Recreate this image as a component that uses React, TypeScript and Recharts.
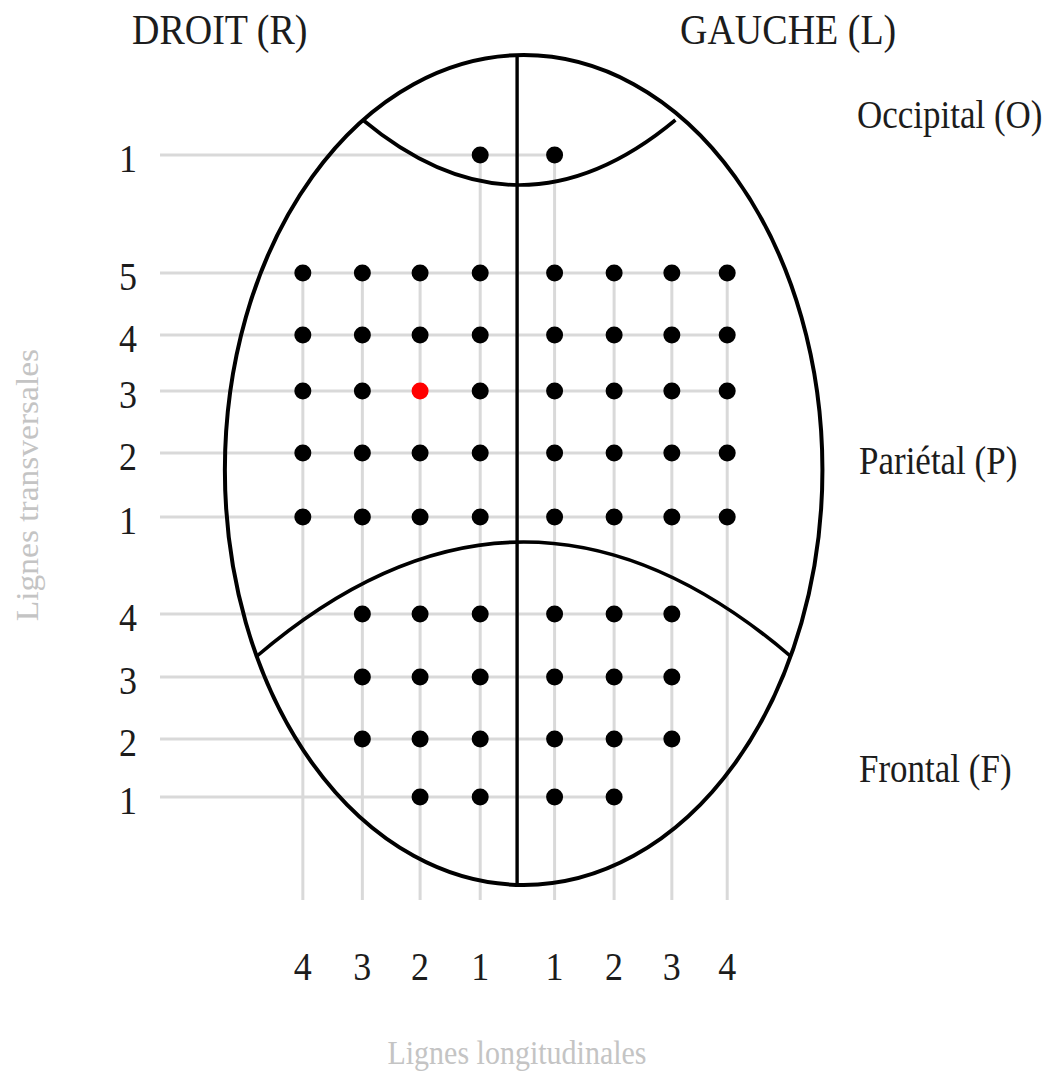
import React from "react";
import {
  ScatterChart,
  Scatter,
  XAxis,
  YAxis,
  ReferenceLine,
  Customized,
} from "recharts";

// ---- data ----
const longitudinalPositions = [-3.6, -2.6, -1.63, -0.62, 0.63, 1.63, 2.6, 3.53];
const longitudinalLabels = ["4", "3", "2", "1", "1", "2", "3", "4"];

const transversalPositions = [74.5, 62.7, 56.5, 50.9, 44.7, 38.3, 28.6, 22.3, 16.1, 10.3];
const transversalLabels = ["1", "5", "4", "3", "2", "1", "4", "3", "2", "1"];

// column indices of electrodes present on each transversal row
const electrodeColumnsByRow = [
  [3, 4],
  [0, 1, 2, 3, 4, 5, 6, 7],
  [0, 1, 2, 3, 4, 5, 6, 7],
  [0, 1, 2, 3, 4, 5, 6, 7],
  [0, 1, 2, 3, 4, 5, 6, 7],
  [0, 1, 2, 3, 4, 5, 6, 7],
  [1, 2, 3, 4, 5, 6],
  [1, 2, 3, 4, 5, 6],
  [1, 2, 3, 4, 5, 6],
  [2, 3, 4, 5],
];
const highlightedRow = 3;
const highlightedColumn = 2;

// outline of the head (data units)
const skullX = [-4.91, 5.13];
const skullY = [1.5, 84.5];
const midlineX = 0;
const occipitalArcX = [-2.59, 2.66];
const occipitalArcY = [78.0, 71.5]; // ends, lowest point
const frontalArcX = [-4.37, 4.59];
const frontalArcY = [24.4, 35.8]; // ends, highest point

const xDomain = [-6, 8.5];
const yDomain = [0, 88];

// ---- derived tables ----
const electrodes = electrodeColumnsByRow.flatMap((cols, r) =>
  cols.map((c) => ({
    x: longitudinalPositions[c],
    y: transversalPositions[r],
    hl: r === highlightedRow && c === highlightedColumn,
  }))
);
const normalPoints = electrodes.filter((p) => !p.hl);
const redPoints = electrodes.filter((p) => p.hl);

const rowSegments = electrodeColumnsByRow.map((cols, r) => ({
  y: transversalPositions[r],
  xEnd: Math.max(...cols.map((c) => longitudinalPositions[c])),
}));
const colSegments = longitudinalPositions.map((x, c) => ({
  x,
  yTop: Math.max(
    ...electrodeColumnsByRow.map((cols, r) =>
      cols.includes(c) ? transversalPositions[r] : -Infinity
    )
  ),
}));

const SERIF = "'Liberation Serif', 'Times New Roman', 'DejaVu Serif', serif";
const GRID = "#d9d9d9";
const INK = "#1c1c1c";
const STRETCH = 1.12;

const Dot = (color: string) => (props: any) =>
  <circle cx={props.cx} cy={props.cy} r={8.5} fill={color} />;

const EllipseShape = (props: any) => {
  const { x1, y1, x2, y2 } = props;
  return (
    <ellipse
      cx={(x1 + x2) / 2}
      cy={(y1 + y2) / 2}
      rx={Math.abs(x2 - x1) / 2}
      ry={Math.abs(y2 - y1) / 2}
      fill="none"
      stroke="#000"
      strokeWidth={4}
    />
  );
};

// quadratic arc: from (x1,y1) to (x2,y1) with its extreme point at height y2
const ArcShape = (props: any) => {
  const { x1, y1, x2, y2 } = props;
  return (
    <path
      d={`M${x1},${y1} Q${(x1 + x2) / 2},${2 * y2 - y1} ${x2},${y1}`}
      fill="none"
      stroke="#000"
      strokeWidth={3.6}
    />
  );
};

const SText = (p: {
  x: number;
  y: number;
  size: number;
  anchor?: string;
  fill?: string;
  children: React.ReactNode;
}) => (
  <text
    transform={`translate(${p.x},${p.y}) scale(1,${STRETCH})`}
    x={0}
    y={0}
    fontSize={p.size}
    fontFamily={SERIF}
    textAnchor={p.anchor || "start"}
    fill={p.fill || INK}
  >
    {p.children}
  </text>
);

const YTick = (props: any) => {
  const { x, y, payload } = props;
  const i = transversalPositions.indexOf(payload.value);
  return (
    <SText x={x} y={y + 17} size={36} anchor="end">
      {transversalLabels[i]}
    </SText>
  );
};

const XTick = (props: any) => {
  const { x, y, payload } = props;
  const i = longitudinalPositions.indexOf(payload.value);
  return (
    <SText x={x} y={y + 80} size={36} anchor="middle">
      {longitudinalLabels[i]}
    </SText>
  );
};

const Labels = () => (
  <g>
    <SText x={132} y={44} size={38}>DROIT (R)</SText>
    <SText x={680} y={44} size={38}>GAUCHE (L)</SText>
    <SText x={857} y={128} size={35}>Occipital (O)</SText>
    <SText x={859} y={474} size={35}>Pariétal (P)</SText>
    <SText x={859} y={782} size={35}>Frontal (F)</SText>
    <SText x={517} y={1064} size={30} anchor="middle" fill="#c4c4c4">
      Lignes longitudinales
    </SText>
    <text
      x={0}
      y={0}
      fontSize={31}
      fontFamily={SERIF}
      fill="#c4c4c4"
      textAnchor="middle"
      transform="translate(38,485) rotate(-90) scale(1.08,1)"
    >
      Lignes transversales
    </text>
  </g>
);

export default function App() {
  return (
    <div style={{ width: 1045, height: 1074, overflow: "hidden", background: "#fff" }}>
      <style>{`body{margin:0;overflow:hidden;background:#fff}`}</style>
      <ScatterChart
        width={1045}
        height={1074}
        margin={{ top: 20, right: 22, bottom: 44, left: 0 }}
      >
        <XAxis
          type="number"
          dataKey="x"
          domain={xDomain}
          ticks={longitudinalPositions}
          interval={0}
          axisLine={false}
          tickLine={false}
          tickSize={0}
          tickMargin={0}
          height={130}
          tick={<XTick />}
          allowDataOverflow
        />
        <YAxis
          type="number"
          dataKey="y"
          domain={yDomain}
          ticks={transversalPositions}
          interval={0}
          axisLine={false}
          tickLine={false}
          tickSize={0}
          tickMargin={23}
          width={160}
          tick={<YTick />}
          allowDataOverflow
        />
        {rowSegments.map((s, i) => (
          <ReferenceLine
            key={`h${i}`}
            segment={[
              { x: xDomain[0], y: s.y },
              { x: s.xEnd, y: s.y },
            ]}
            stroke={GRID}
            strokeWidth={3}
          />
        ))}
        {colSegments.map((s, i) => (
          <ReferenceLine
            key={`v${i}`}
            segment={[
              { x: s.x, y: yDomain[0] },
              { x: s.x, y: s.yTop },
            ]}
            stroke={GRID}
            strokeWidth={3}
          />
        ))}
        <ReferenceLine
          segment={[
            { x: skullX[0], y: skullY[0] },
            { x: skullX[1], y: skullY[1] },
          ]}
          shape={EllipseShape}
        />
        <ReferenceLine
          segment={[
            { x: occipitalArcX[0], y: occipitalArcY[0] },
            { x: occipitalArcX[1], y: occipitalArcY[1] },
          ]}
          shape={ArcShape}
        />
        <ReferenceLine
          segment={[
            { x: frontalArcX[0], y: frontalArcY[0] },
            { x: frontalArcX[1], y: frontalArcY[1] },
          ]}
          shape={ArcShape}
        />
        <ReferenceLine
          segment={[
            { x: midlineX, y: skullY[0] },
            { x: midlineX, y: skullY[1] },
          ]}
          stroke="#000"
          strokeWidth={3.4}
        />
        <Scatter data={normalPoints} shape={Dot("#000")} isAnimationActive={false} />
        <Scatter data={redPoints} shape={Dot("#ff0000")} isAnimationActive={false} />
        <Customized component={<Labels />} />
      </ScatterChart>
    </div>
  );
}
